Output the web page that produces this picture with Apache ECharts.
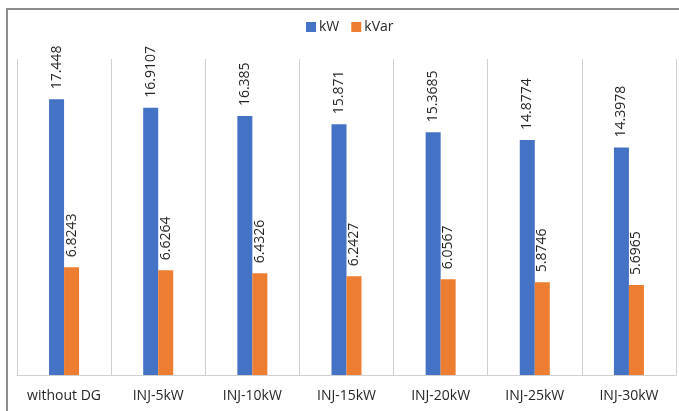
<!DOCTYPE html>
<html>
<head>
<meta charset="utf-8">
<script src="https://cdn.jsdelivr.net/npm/echarts@6/dist/echarts.min.js"></script>
<style>
html,body{margin:0;padding:0;background:#fff;}
#chart{width:679px;height:411px;}
</style>
</head>
<body>
<div id="chart"></div>
<script>
var categories = ['without DG','INJ-5kW','INJ-10kW','INJ-15kW','INJ-20kW','INJ-25kW','INJ-30kW'];
var kW = [17.448, 16.9107, 16.385, 15.871, 15.3685, 14.8774, 14.3978];
var kVar = [6.8243, 6.6264, 6.4326, 6.2427, 6.0567, 5.8746, 5.6965];

var FONT = 'Open Sans';
var chart = echarts.init(document.getElementById('chart'), null, {renderer:'canvas'});
var labelStyle = {
  show: true,
  position: 'top',
  rotate: 90,
  align: 'left',
  verticalAlign: 'middle',
  distance: 10,
  fontFamily: FONT,
  fontSize: 14,
  color: '#262626'
};
chart.setOption({
  animation: false,
  backgroundColor: '#fff',
  graphic: [{
    type: 'rect',
    shape: {x: 7, y: 9, width: 700, height: 500},
    style: {fill: 'none', stroke: '#8c8c8c', lineWidth: 2},
    silent: true
  }],
  legend: {
    top: 20,
    left: 306,
    padding: 0,
    itemWidth: 10,
    itemHeight: 10,
    itemGap: 12,
    icon: 'rect',
    textStyle: {fontFamily: FONT, fontSize: 14, color: '#262626', padding: [0,0,0,-2]},
    data: ['kW','kVar']
  },
  grid: {left: 17, right: 3, top: 59, bottom: 36},
  xAxis: {
    type: 'category',
    data: categories,
    axisLine: {show: true, lineStyle: {color: '#d0d0d0', width: 1}},
    axisTick: {show: false},
    axisLabel: {interval: 0, fontFamily: FONT, fontSize: 14, color: '#262626', margin: 14},
    splitLine: {show: true, interval: 0, lineStyle: {color: '#d0d0d0', width: 1}}
  },
  yAxis: {
    type: 'value',
    min: 0,
    max: 20,
    show: false,
    splitLine: {show: false}
  },
  series: [
    {name: 'kW', type: 'bar', data: kW, barWidth: 15, barGap: '0%',
     itemStyle: {color: '#4472C4'}, label: labelStyle},
    {name: 'kVar', type: 'bar', data: kVar, barWidth: 15, barGap: '0%',
     itemStyle: {color: '#ED7D31'}, label: labelStyle}
  ]
});
</script>
</body>
</html>
